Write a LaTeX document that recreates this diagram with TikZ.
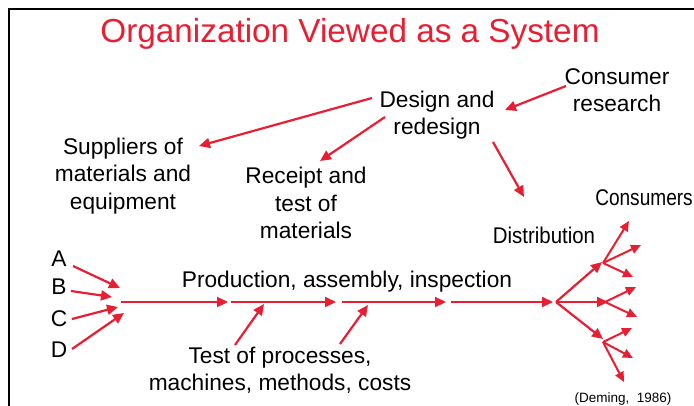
\documentclass[tikz,border=0pt]{standalone}
\usepackage{fontspec}
\setmainfont{Liberation Sans}
\usetikzlibrary{arrows.meta}
\definecolor{dred}{RGB}{232,30,50}
\tikzset{
  lbl/.style={inner sep=0pt, align=center, font=\fontsize{22.7}{27.5}\selectfont},
  arr/.style={draw=dred, line width=2.2pt, -{Triangle[length=11pt,width=10pt]}, shorten >=0pt},
  sarr/.style={draw=dred, line width=2pt, -{Triangle[length=10pt,width=9pt]}},
}
\begin{document}
\begin{tikzpicture}[x=1pt,y=-1pt]
\useasboundingbox (0,0) rectangle (694,405);
\clip (0,0) rectangle (694,405);
% frame
\draw[line width=1.6pt] (9,420) -- (9,9) -- (710,9);
% title
\node[inner sep=0pt, text=dred, font=\fontsize{33.3}{40}\selectfont] (title) at (350,34) {Organization Viewed as a System};
% labels
\node[lbl] (design) at (437,115) {Design and\\redesign};
\node[lbl] (consumer) at (617,90) {Consumer\\research};
\node[lbl] (suppliers) at (123,176) {Suppliers of\\materials and\\equipment};
\node[lbl] (receipt) at (306,203) {Receipt and\\test of\\materials};
\node[lbl] (tests) at (280,370) {Test of processes,\\machines, methods, costs};
\node[lbl, anchor=base] (prod) at (347,287) {Production, assembly, inspection};
\node[lbl, anchor=base] (distr) at (544,243) {\scalebox{0.9}[1]{Distribution}};
\node[lbl, anchor=base] (consumers) at (644,205) {\scalebox{0.84}[1]{Consumers}};
\node[lbl, anchor=base] (A) at (59,266) {A};
\node[lbl, anchor=base] (B) at (59,294) {B};
\node[lbl, anchor=base] (C) at (59,326) {C};
\node[lbl, anchor=base] (D) at (59,357) {D};
\node[inner sep=0pt, anchor=base, font=\fontsize{13.5}{16}\selectfont] (deming) at (623,402) {(Deming,\ \ 1986)};
% connector end points
\coordinate (dS) at (372,98);  \coordinate (sT) at (199,146);
\coordinate (dR) at (385,117); \coordinate (rT) at (320,161);
\coordinate (cD) at (566,86);  \coordinate (dT) at (505,110);
\coordinate (dD) at (493,142); \coordinate (xT) at (524,197);
\coordinate (aS) at (73,266);  \coordinate (aT) at (120,288);
\coordinate (bS) at (71,291);  \coordinate (bT) at (112,297);
\coordinate (cS) at (72,319);  \coordinate (cT) at (118,307);
\coordinate (dS2) at (72,349); \coordinate (dT2) at (124,313);
\coordinate (m0) at (121,302); \coordinate (m1) at (228,302);
\coordinate (m1b) at (231,302); \coordinate (m2) at (336,302);
\coordinate (m2b) at (342,302); \coordinate (m3) at (446,302);
\coordinate (m3b) at (451,302); \coordinate (hub) at (553,302);
\coordinate (t1S) at (235,345); \coordinate (t1T) at (264,304);
\coordinate (t2S) at (340,344); \coordinate (t2T) at (368,305);
\coordinate (h0) at (556,302);
\coordinate (h1) at (602,262); \coordinate (h2) at (608,302); \coordinate (h3) at (603,339);
\coordinate (h1s) at (603,263); \coordinate (h2s) at (605,302); \coordinate (h3s) at (603,342);
\coordinate (e1) at (629,221); \coordinate (e2) at (641,245); \coordinate (e3) at (633,277);
\coordinate (e4) at (636,287); \coordinate (e5) at (637,317);
\coordinate (e6) at (632,328); \coordinate (e7) at (633,358); \coordinate (e8) at (624,382);
% connectors
\draw[arr] (dS) -- (sT);
\draw[arr] (dR) -- (rT);
\draw[arr] (cD) -- (dT);
\draw[arr] (dD) -- (xT);
\draw[arr] (aS) -- (aT);
\draw[arr] (bS) -- (bT);
\draw[arr] (cS) -- (cT);
\draw[arr] (dS2) -- (dT2);
\draw[arr] (m0) -- (m1);
\draw[arr] (m1b) -- (m2);
\draw[arr] (m2b) -- (m3);
\draw[arr] (m3b) -- (hub);
\draw[arr] (t1S) -- (t1T);
\draw[arr] (t2S) -- (t2T);
\draw[arr] (h0) -- (h1);
\draw[arr] (h0) -- (h2);
\draw[arr] (h0) -- (h3);
\draw[sarr] (h1s) -- (e1);
\draw[sarr] (h1s) -- (e2);
\draw[sarr] (h1s) -- (e3);
\draw[sarr] (h2s) -- (e4);
\draw[sarr] (h2s) -- (e5);
\draw[sarr] (h3s) -- (e6);
\draw[sarr] (h3s) -- (e7);
\draw[sarr] (h3s) -- (e8);
\end{tikzpicture}
\end{document}
